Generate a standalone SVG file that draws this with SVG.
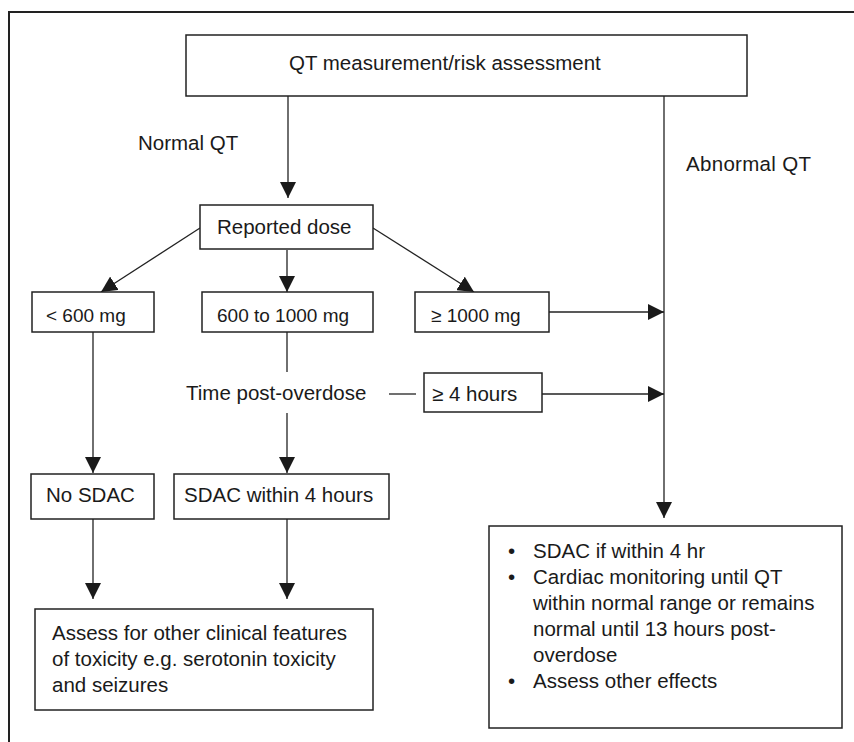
<svg xmlns="http://www.w3.org/2000/svg" width="854" height="742" viewBox="0 0 854 742">
<style>
  .box { fill: #fff; stroke: #222; stroke-width: 1.5; }
  .conn { fill: none; stroke: #222; stroke-width: 1.3; }
  .t { font-family: "Liberation Sans", Arial, sans-serif; font-size: 20.5px; fill: #1a1a1a; }
  .s { font-family: "Liberation Sans", Arial, sans-serif; font-size: 19px; fill: #1a1a1a; }
</style>
<defs>
  <marker id="arr" markerUnits="userSpaceOnUse" markerWidth="16" markerHeight="16" viewBox="0 0 14 14" refX="14" refY="7" orient="auto">
    <path d="M0,0 L14,7 L0,14 Z" fill="#1a1a1a"/>
  </marker>
</defs>
<rect width="854" height="742" fill="#fff"/>
<path d="M9,745 V12 H858" fill="none" stroke="#222" stroke-width="2"/>

<g id="connectors">
  <line class="conn" x1="288" y1="96" x2="288" y2="198" marker-end="url(#arr)"/>
  <line class="conn" x1="664" y1="96" x2="664" y2="518" marker-end="url(#arr)"/>
  <line class="conn" x1="200" y1="228" x2="101" y2="292" marker-end="url(#arr)"/>
  <line class="conn" x1="287" y1="250" x2="287" y2="292" marker-end="url(#arr)"/>
  <line class="conn" x1="373" y1="228" x2="474" y2="292" marker-end="url(#arr)"/>
  <line class="conn" x1="549" y1="312" x2="664" y2="312" marker-end="url(#arr)"/>
  <line class="conn" x1="287" y1="332" x2="287" y2="372"/>
  <line class="conn" x1="389" y1="394" x2="416" y2="394"/>
  <line class="conn" x1="542" y1="394" x2="664" y2="394" marker-end="url(#arr)"/>
  <line class="conn" x1="287" y1="413" x2="287" y2="473" marker-end="url(#arr)"/>
  <line class="conn" x1="93" y1="332" x2="93" y2="473" marker-end="url(#arr)"/>
  <line class="conn" x1="93" y1="519" x2="93" y2="599" marker-end="url(#arr)"/>
  <line class="conn" x1="287" y1="519" x2="287" y2="599" marker-end="url(#arr)"/>
</g>

<g id="labels">
  <text class="t" x="138" y="150">Normal QT</text>
  <text class="t" x="686" y="171" letter-spacing="0.3">Abnormal QT</text>
  <text class="t" x="186" y="400">Time post-overdose</text>
</g>

<g id="qt-assessment">
  <rect class="box" x="186" y="35" width="561" height="61" stroke-width="2"/>
  <text class="t" x="289" y="70">QT measurement/risk assessment</text>
</g>

<g id="reported-dose">
  <rect class="box" x="200" y="205" width="173" height="44"/>
  <text class="t" x="217" y="234">Reported dose</text>
</g>

<g id="lt600">
  <rect class="box" x="32" y="292" width="122" height="40"/>
  <text class="s" x="46" y="322">&lt; 600 mg</text>
</g>

<g id="600to1000">
  <rect class="box" x="202" y="292" width="171" height="40"/>
  <text class="s" x="217" y="322">600 to 1000 mg</text>
</g>

<g id="ge1000">
  <rect class="box" x="415" y="292" width="134" height="40"/>
  <text class="s" x="431" y="322">≥ 1000 mg</text>
</g>

<g id="ge4hours">
  <rect class="box" x="424" y="373" width="118" height="39"/>
  <text class="t" x="432" y="401">≥ 4 hours</text>
</g>

<g id="no-sdac">
  <rect class="box" x="31" y="474" width="123" height="45"/>
  <text class="t" x="46" y="502">No SDAC</text>
</g>

<g id="sdac-4h">
  <rect class="box" x="174" y="474" width="215" height="45"/>
  <text class="t" x="184" y="502">SDAC within 4 hours</text>
</g>

<g id="assess-other">
  <rect class="box" x="35" y="609" width="338" height="101"/>
  <text class="t" x="52" y="640">Assess for other clinical features</text>
  <text class="t" x="52" y="666">of toxicity e.g. serotonin toxicity</text>
  <text class="t" x="52" y="692">and seizures</text>
</g>

<g id="abnormal-management">
  <rect class="box" x="489" y="526" width="353" height="202"/>
  <text class="t" x="508" y="558">•</text>
  <text class="t" x="533" y="558">SDAC if within 4 hr</text>
  <text class="t" x="508" y="584">•</text>
  <text class="t" x="533" y="584">Cardiac monitoring until QT</text>
  <text class="t" x="533" y="610">within normal range or remains</text>
  <text class="t" x="533" y="636">normal until 13 hours post-</text>
  <text class="t" x="533" y="662">overdose</text>
  <text class="t" x="508" y="688">•</text>
  <text class="t" x="533" y="688">Assess other effects</text>
</g>
</svg>
